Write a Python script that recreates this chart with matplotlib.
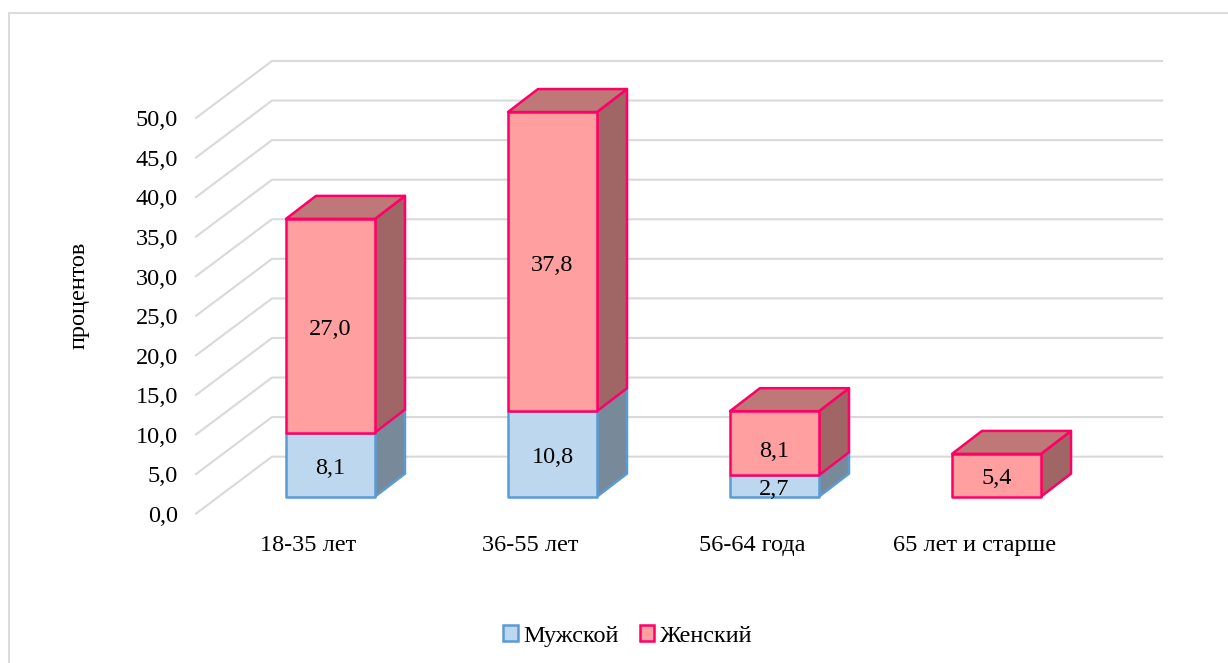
import matplotlib.pyplot as plt
import numpy as np
from matplotlib.patches import Polygon, Rectangle

plt.rcParams['font.family'] = ['Liberation Serif', 'DejaVu Serif']

# Входные данные
categories = ["18-35 лет", "36-55 лет", "56-64 года", "65 лет и старше"]
male = [8.1, 10.8, 2.7, 0]
female = [27.0, 37.8, 8.1, 5.4]
y_ticks = [0, 5, 10, 15, 20, 25, 30, 35, 40, 45, 50]
y_tick_labels = ["0,0", "5,0", "10,0", "15,0", "20,0", "25,0", "30,0", "35,0", "40,0", "45,0", "50,0"]

W, H = 1228, 663
FS = 17.5
GRID = "#D9D9D9"

fig = plt.figure(figsize=(W / 100, H / 100), dpi=100)
# Рамка диаграммы: справа и снизу уходит за край картинки
fig.add_artist(Rectangle((9 / W, -0.01), 1.02 - 9 / W, 1 - 13 / H + 0.01, transform=fig.transFigure,
                         fill=False, edgecolor="#D9D9D9", linewidth=1.3))

# Оси: x - номер категории, y - проценты на передней плоскости столбцов
left, right, top, bottom = 196, 1162, 55, 514
ax = fig.add_axes([left / W, 1 - bottom / H, (right - left) / W, (bottom - top) / H])
px_x = 222.0   # пикселей на категорию
px_y = 7.92    # пикселей на процент
x0 = -(330.5 - left) / px_x
y0 = -(bottom - 497) / px_y
ax.set_xlim(x0, x0 + (right - left) / px_x)
ax.set_ylim(y0, y0 + (bottom - top) / px_y)

# Глубина столбца и стенки
bar_w = 89 / px_x
dx, dy = 30 / px_x, 23 / px_y
wall_dx, wall_dy = 76 / px_x, 57 / px_y

# Сетка на задней и боковой стенках
for v in y_ticks:
    ax.plot([x0, x0 + wall_dx, x0 + (right - left) / px_x], [y0 + v, y0 + v + wall_dy, y0 + v + wall_dy],
            color=GRID, linewidth=1.5, solid_joinstyle="miter", zorder=1, clip_on=False)


def draw_block(xc, v0, v1, face, side, roof, edge, draw_top):
    xl, xr = xc - bar_w / 2, xc + bar_w / 2
    lw = 1.8
    ax.add_patch(Polygon([(xr, v0), (xr + dx, v0 + dy), (xr + dx, v1 + dy), (xr, v1)],
                         facecolor=side, edgecolor=edge, linewidth=lw, joinstyle="round", zorder=3))
    if draw_top:
        ax.add_patch(Polygon([(xl, v1), (xl + dx, v1 + dy), (xr + dx, v1 + dy), (xr, v1)],
                             facecolor=roof, edgecolor=edge, linewidth=lw, joinstyle="round", zorder=3))
    ax.add_patch(Rectangle((xl, v0), bar_w, v1 - v0, facecolor=face, edgecolor=edge,
                           linewidth=lw, joinstyle="round", zorder=4))


text_drop = 3.5 / px_y  # подписи чуть ниже центра, как в оригинале
for i in range(len(categories)):
    m, f = male[i], female[i]
    if m > 0:
        draw_block(i, 0, m, "#BDD7EE", "#788A9A", "#97ACBE", "#5B9BD5", False)
        ax.text(i, m / 2 - text_drop, f"{m:.1f}".replace(".", ","), ha="center", va="center", fontsize=FS, zorder=6)
    draw_block(i, m, m + f, "#FF9F9F", "#A06565", "#BF7878", "#FF0066", True)
    shift = 8 / px_y if i == 2 else text_drop  # подпись 8,1 у третьего столбца опущена сильнее
    ax.text(i, m + f / 2 - shift, f"{f:.1f}".replace(".", ","), ha="center", va="center", fontsize=FS, zorder=6)

# Подписи осей
for s in ax.spines.values():
    s.set_visible(False)
ax.set_yticks([v + y0 - 0.05 for v in y_ticks], y_tick_labels, fontsize=FS)
ax.set_xticks([i - 22 / px_x for i in range(len(categories))], categories, fontsize=FS)
ax.tick_params(axis="both", length=0)
ax.tick_params(axis="y", pad=13)
ax.tick_params(axis="x", pad=15)
ax.set_ylabel("процентов", fontsize=FS)
ax.yaxis.set_label_coords((90 - left) / (right - left), (bottom - 295) / (bottom - top))

# Легенда
h1 = Rectangle((0, 0), 1, 1, facecolor="#BDD7EE", edgecolor="#5B9BD5", linewidth=1.8)
h2 = Rectangle((0, 0), 1, 1, facecolor="#FF9F9F", edgecolor="#FF0066", linewidth=1.8)
fig.legend([h1, h2], ["Мужской", "Женский"], loc="center", bbox_to_anchor=(628 / W, 1 - 636 / H),
           ncol=2, frameon=False, fontsize=FS, handlelength=0.6, handleheight=0.6,
           handletextpad=0.25, columnspacing=0.85)

fig.savefig("out.png", dpi=100)
